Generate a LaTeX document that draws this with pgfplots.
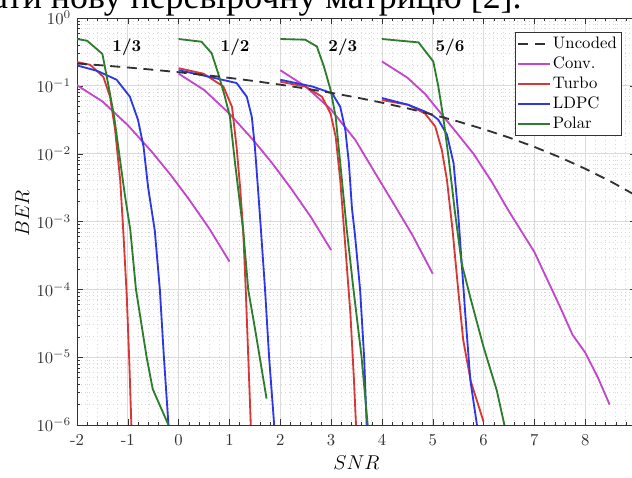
\documentclass[border=0pt]{standalone}
\usepackage{fontspec}
\newfontfamily\ukr{Liberation Serif}
\usepackage{pgfplots}
\pgfplotsset{compat=1.18}
\definecolor{convc}{RGB}{195,70,205}
\definecolor{turboc}{RGB}{215,55,55}
\definecolor{ldpcc}{RGB}{45,55,230}
\definecolor{polarc}{RGB}{45,125,45}
\definecolor{uncc}{RGB}{50,50,50}
\begin{document}
\begin{tikzpicture}
\path[use as bounding box] (0,0) rectangle (379.2pt,286.2pt);
\clip (0,0) rectangle (379.2pt,286.2pt);
\node[anchor=base east, inner sep=0pt, font=\ukr\fontsize{21.5}{25}\selectfont] at (313.2pt,281.2pt) {вати нову перевірочну матрицю [2].};
\begin{axis}[
    at={(46.2pt,31.2pt)}, anchor=south west,
    scale only axis, width=335.4pt, height=244.2pt,
    ymode=log, xmin=-2, xmax=9, ymin=1e-6, ymax=1,
    xtick={-2,-1,0,1,2,3,4,5,6,7,8,9},
    xticklabels={-2,-1,0,1,2,3,4,5,6,7,8,9},
    ytick={1e-6,1e-5,1e-4,1e-3,1e-2,1e-1,1},
    minor x tick num=4,
    grid=both,
    major grid style={black!14, line width=0.5pt},
    minor grid style={black!15, dotted, line width=0.5pt},
    axis line style={black!80},
    tick style={black!80},
    major tick length=3.5pt, minor tick length=1.8pt,
    tick label style={black!80},
    xticklabel style={yshift=-2pt},
    xlabel={$SNR$}, ylabel={$BER$},
    label style={font=\large},
    xlabel style={at={(axis description cs:0.5,-0.093)}, anchor=center},
    ylabel style={at={(axis description cs:-0.098,0.52)}, anchor=center},
    legend style={at={(0.7835,0.966)}, anchor=north west, draw=black!80, fill=white,
        inner sep=1pt, row sep=0pt,
        nodes={inner sep=1.5pt, text height=7pt, text depth=2pt}},
    legend cell align=left,
    legend image code/.code={\draw[#1] (0pt,0pt) -- (19pt,0pt);},
    every axis plot/.append style={line width=1.1pt, line join=round},
]
\addlegendimage{uncc, dashed, dash pattern=on 6pt off 4pt}
\addlegendimage{convc}
\addlegendimage{turboc}
\addlegendimage{ldpcc}
\addlegendimage{polarc}
\legend{Uncoded, Conv., Turbo, LDPC, Polar}

% Conv.
\addplot[convc, forget plot] coordinates {(-2,0.102) (-1.5,0.0589) (-1,0.0263) (-0.53,0.0107) (-0.16,4.90e-3) (0.2,2.14e-3) (0.6,7.94e-4) (1,2.57e-4)};
\addplot[convc, forget plot] coordinates {(0,0.151) (0.5,0.0871) (1,0.0389) (1.47,0.0158) (1.84,7.24e-3) (2.2,3.16e-3) (2.6,1.17e-3) (3,3.80e-4)};
\addplot[convc, forget plot] coordinates {(2,0.170) (2.5,0.0977) (3,0.0447) (3.48,0.0158) (3.87,5.13e-3) (4.2,2.00e-3) (4.6,6.31e-4) (5,1.70e-4)};
\addplot[convc, forget plot] coordinates {(4,0.229) (4.5,0.132) (4.85,0.0759) (5.24,0.0331) (5.5,0.0191) (5.8,0.0100) (6.15,3.98e-3) (6.5,1.41e-3) (7,3.55e-4) (7.25,1.41e-4) (7.5,5.62e-5) (7.75,2.14e-5) (8,1.17e-5) (8.25,5.01e-6) (8.48,2.00e-6)};

% Turbo
\addplot[turboc, forget plot] coordinates {(-2,0.224) (-1.74,0.204) (-1.48,0.135) (-1.35,0.0692) (-1.25,0.0224) (-1.15,4.07e-3) (-1.09,7.41e-4) (-1.02,7.76e-5) (-0.97,8.13e-6) (-0.93,1e-6)};
\addplot[turboc, forget plot] coordinates {(0,0.182) (0.49,0.151) (0.88,0.0977) (1.05,0.0490) (1.14,0.0126) (1.21,3.16e-3) (1.27,7.41e-4) (1.32,1e-4) (1.37,1e-5) (1.42,1e-6)};
\addplot[turboc, forget plot] coordinates {(2,0.115) (2.49,0.0977) (2.82,0.0692) (2.99,0.0389) (3.09,0.0178) (3.18,4.07e-3) (3.28,4.27e-4) (3.38,4.37e-5) (3.45,4.57e-6) (3.49,1e-6)};
\addplot[turboc, forget plot] coordinates {(4,0.0617) (4.52,0.0525) (4.85,0.0389) (5.05,0.0251) (5.18,0.0112) (5.28,4.07e-3) (5.39,7.41e-4) (5.5,1e-4) (5.6,1.78e-5) (5.75,4.37e-6) (6.0,1.12e-6)};

% LDPC
\addplot[ldpcc, forget plot] coordinates {(-2,0.200) (-1.6,0.166) (-1.22,0.123) (-0.96,0.0692) (-0.8,0.0316) (-0.69,0.0126) (-0.6,3.16e-3) (-0.47,7.41e-4) (-0.37,1e-4) (-0.29,1e-5) (-0.2,1e-6)};
\addplot[ldpcc, forget plot] coordinates {(0,0.170) (0.62,0.135) (1.14,0.110) (1.34,0.0692) (1.44,0.0347) (1.5,0.0126) (1.56,3.16e-3) (1.62,7.41e-4) (1.7,1e-4) (1.78,1e-5) (1.88,1e-6)};
\addplot[ldpcc, forget plot] coordinates {(2,0.123) (2.63,0.0977) (3.02,0.0776) (3.18,0.0490) (3.28,0.0224) (3.35,7.24e-3) (3.41,1.58e-3) (3.47,6.31e-4) (3.57,1e-4) (3.65,1e-5) (3.70,1e-6)};
\addplot[ldpcc, forget plot] coordinates {(4,0.0661) (4.52,0.0525) (4.85,0.0417) (5.01,0.0363) (5.11,0.0316) (5.28,0.0191) (5.41,7.24e-3) (5.5,1.32e-3) (5.57,2.40e-4) (5.64,4.37e-5) (5.74,4.57e-6) (5.87,1e-6)};

% Polar
\addplot[polarc, forget plot] coordinates {(-2,0.490) (-1.8,0.462) (-1.5,0.295) (-1.38,0.100) (-1.27,0.0355) (-1.17,0.0100) (-1.06,2.51e-3) (-0.95,7.41e-4) (-0.84,1e-4) (-0.63,1e-5) (-0.51,3.39e-6) (-0.3,1.48e-6) (-0.2,1e-6)};
\addplot[polarc, forget plot] coordinates {(0,0.490) (0.45,0.447) (0.65,0.302) (0.78,0.151) (0.91,0.0692) (1.01,0.0347) (1.11,7.24e-3) (1.2,2.0e-3) (1.27,7.41e-4) (1.37,9.77e-5) (1.5,2.69e-5) (1.73,2.45e-6)};
\addplot[polarc, forget plot] coordinates {(2,0.490) (2.49,0.479) (2.72,0.380) (2.86,0.191) (2.99,0.0871) (3.09,0.0347) (3.18,7.24e-3) (3.31,7.41e-4) (3.44,1e-4) (3.6,1e-5) (3.72,1e-6)};
\addplot[polarc, forget plot] coordinates {(4,0.490) (4.72,0.437) (5.01,0.229) (5.11,0.0977) (5.21,0.0331) (5.31,8.91e-3) (5.44,1.32e-3) (5.57,2.40e-4) (5.75,7.08e-5) (6.0,1.41e-5) (6.26,3.24e-6) (6.41,1e-6)};

% Uncoded
\addplot[uncc, dash pattern=on 6pt off 4pt, forget plot] coordinates {(-2,0.2135) (-1.5,0.2001) (-1,0.1864) (-0.5,0.1726) (0,0.1587) (0.5,0.1447) (1,0.1309) (1.5,0.1173) (2,0.1040) (2.5,0.0912) (3,0.0789) (3.5,0.0673) (4,0.0565) (4.5,0.0466) (5,0.0377) (5.5,0.0298) (6,0.0230) (6.5,0.0173) (7,0.01259) (7.5,0.00886) (8,0.00600) (8.5,0.00390) (9,0.00241)};

\node[font=\boldmath] at (axis cs:-1.02,0.37) {$1/3$};
\node[font=\boldmath] at (axis cs:1.11,0.37) {$1/2$};
\node[font=\boldmath] at (axis cs:3.23,0.37) {$2/3$};
\node[font=\boldmath] at (axis cs:5.34,0.37) {$5/6$};
\end{axis}
\end{tikzpicture}
\end{document}
